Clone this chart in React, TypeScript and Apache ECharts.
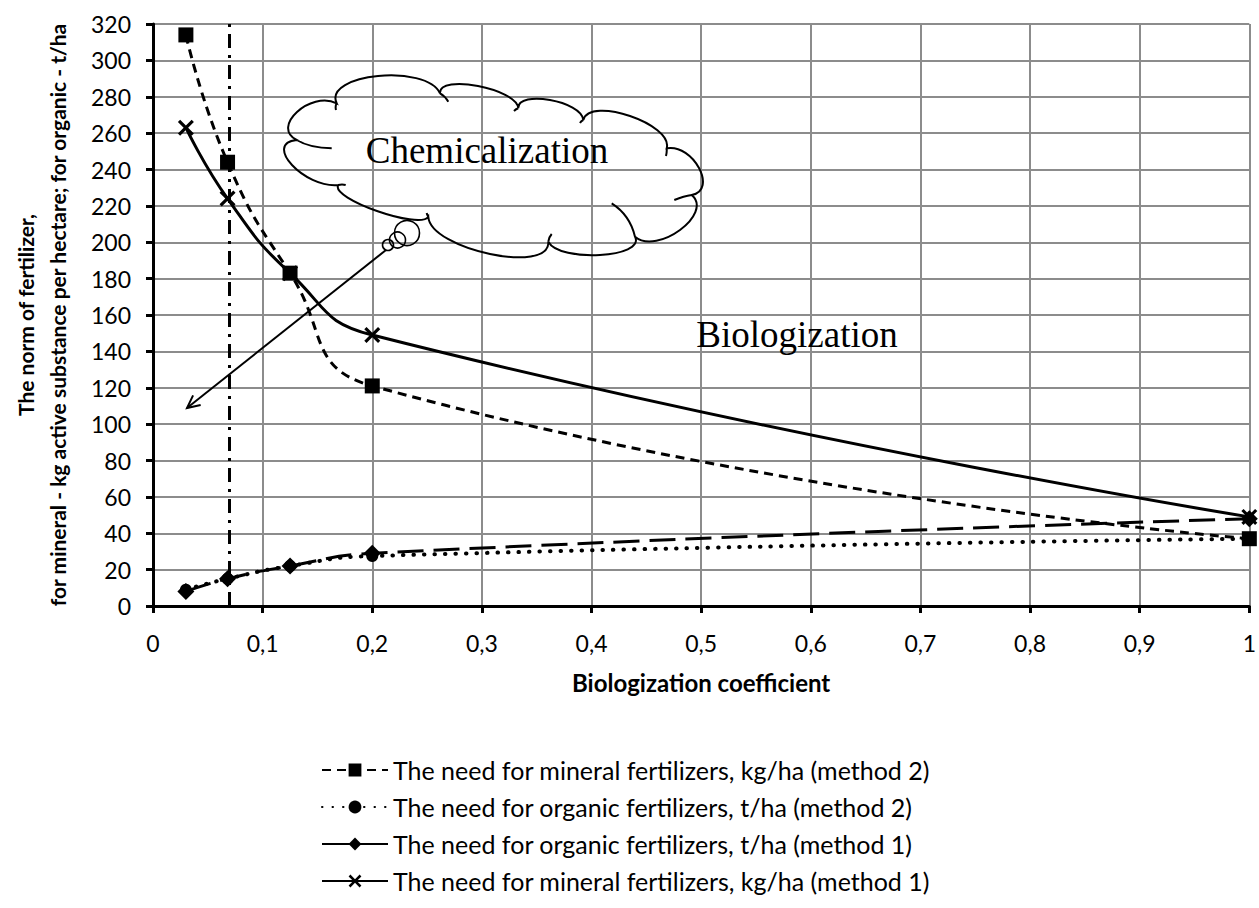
import React, { useEffect, useRef } from 'react';
import * as echarts from 'echarts';

const xValues = [0.03, 0.068, 0.125, 0.2, 1];
const mineralMethod2 = [314, 244, 183, 121, 37];
const organicMethod2 = [9, 15, 22, 27.5, 37];
const organicMethod1 = [8, 15, 22, 29, 48];
const mineralMethod1 = [263, 224, 183, 149, 49];
const thresholdX = 0.068;
const seriesNames = [
  'The need for mineral fertilizers, kg/ha (method 2)',
  'The need for organic fertilizers, t/ha (method 2)',
  'The need for organic fertilizers, t/ha (method 1)',
  'The need for mineral fertilizers, kg/ha (method 1)',
];
const xTitle = 'Biologization coefficient';
const yTitle = 'The norm of fertilizer,\nfor mineral - kg active substance per hectare; for organic - t/ha';
const cloudLabel = 'Chemicalization';
const regionLabel = 'Biologization';

const FONT = 'Lato, "Open Sans", sans-serif';
const SERIF = '"Liberation Serif", "Times New Roman", serif';

const pairs = (ys: number[]) => xValues.map((x, i) => [x, ys[i]]);

const X_SYMBOL = 'path://M0,1.4L1.4,0L5,3.6L8.6,0L10,1.4L6.4,5L10,8.6L8.6,10L5,6.4L1.4,10L0,8.6L3.6,5Z';

// cloud outline (annotation geometry, pixels)
const J = [[296.7, 140], [336.7, 103.3], [440, 93.3], [518.3, 108.3], [583.3, 120], [666.7, 148.3], [691.7, 195], [635, 236.7], [548.3, 241.7], [428.3, 216.7], [338.3, 185]];
const E = [[297, 112], [378, 76], [478, 86], [550, 100], [630, 116], [699, 168], [680, 230], [600, 255], [490, 254], [377, 211], [292, 165]];
const TUCKS = [
  [[296.7, 140], [310, 148], [331.7, 148.3]],
  [[336.7, 103.3], [335, 106], [336, 110]],
  [[440, 93.3], [445, 96], [448.3, 101.7]],
  [[518.3, 108.3], [516, 109], [514, 111]],
  [[583.3, 120], [581, 121], [580, 123]],
  [[666.7, 148.3], [667, 152], [666, 156]],
  [[691.7, 195], [684, 196], [674.3, 200]],
  [[635, 236.7], [630, 215], [611.7, 203.3]],
  [[548.3, 241.7], [549, 237], [551.7, 234]],
  [[428.3, 216.7], [427, 215], [426.7, 213]],
  [[338.3, 185], [342, 184], [345.7, 185]],
];

function cloudPath(): string {
  const f = (n: number) => n.toFixed(2);
  let d = `M${f(J[0][0])},${f(J[0][1])}`;
  for (let i = 0; i < J.length; i++) {
    const a = J[i];
    const b = J[(i + 1) % J.length];
    const e = E[i];
    const mx = (a[0] + b[0]) / 2;
    const my = (a[1] + b[1]) / 2;
    const dx = (e[0] - mx) * 4 / 3;
    const dy = (e[1] - my) * 4 / 3;
    d += `C${f(a[0] + dx)},${f(a[1] + dy)} ${f(b[0] + dx)},${f(b[1] + dy)} ${f(b[0])},${f(b[1])}`;
  }
  d += 'Z';
  for (const t of TUCKS) {
    d += `M${f(t[0][0])},${f(t[0][1])}Q${f(t[1][0])},${f(t[1][1])} ${f(t[2][0])},${f(t[2][1])}`;
  }
  return d;
}

let registered = false;
function ensureShapes() {
  if (registered) return;
  registered = true;
  echarts.graphic.registerShape('cloudShape', echarts.graphic.extendPath(cloudPath(), {}));
}

export default function App() {
  const ref = useRef<HTMLDivElement>(null);
  useEffect(() => {
    if (!ref.current) return;
    ensureShapes();
    const chart = echarts.init(ref.current, undefined, { renderer: 'svg' });

    const ax0 = 386, ay0 = 250, ax1 = 187, ay1 = 408;
    const ang = Math.atan2(ay0 - ay1, ax0 - ax1);
    const head = 14, spread = 0.45;

    const option: any = {
      animation: false,
      backgroundColor: '#ffffff',
      grid: { left: 153, right: 9, top: 24, bottom: 302, containLabel: false },
      xAxis: {
        type: 'value', min: 0, max: 1, interval: 0.1,
        name: xTitle, nameLocation: 'middle', nameGap: 64,
        nameTextStyle: { fontFamily: FONT, fontWeight: 'bold', fontSize: 24, color: '#000' },
        axisLine: { show: true, onZero: false, lineStyle: { color: '#000', width: 3 } },
        axisTick: { show: true, length: 7, lineStyle: { color: '#000', width: 3 } },
        axisLabel: {
          margin: 25, fontFamily: FONT, fontSize: 23, color: '#000',
          formatter: (v: number) => String(+v.toFixed(1)).replace('.', ','),
        },
        splitLine: { show: true, lineStyle: { color: '#8c8c8c', width: 2 } },
      },
      yAxis: {
        type: 'value', min: 0, max: 320, interval: 20,
        name: yTitle, nameLocation: 'middle', nameRotate: 90, nameGap: 80,
        nameTextStyle: { fontFamily: FONT, fontWeight: 'bold', fontSize: 21, color: '#000', lineHeight: 32, align: 'center' },
        axisLine: { show: true, lineStyle: { color: '#000', width: 3 } },
        axisTick: { show: true, length: 7, lineStyle: { color: '#000', width: 3 } },
        axisLabel: { margin: 22, fontFamily: FONT, fontSize: 23, color: '#000' },
        splitLine: { show: true, lineStyle: { color: '#8c8c8c', width: 2 } },
      },
      legend: {
        orient: 'vertical', left: 316, top: 752,
        itemWidth: 66, itemHeight: 16, itemGap: 11,
        textStyle: { fontFamily: FONT, fontSize: 25, color: '#000', lineHeight: 26 },
        data: seriesNames.map((n, i) => (i === 2 ? { name: n, lineStyle: { type: 'solid' } } : { name: n })),
      },
      series: [
        {
          name: seriesNames[0], type: 'line', data: pairs(mineralMethod2), smooth: 0.5,
          symbol: 'rect', symbolSize: 15, z: 4,
          itemStyle: { color: '#000' },
          lineStyle: { color: '#000', width: 3, type: [9, 6] },
          markLine: {
            silent: true, symbol: 'none', label: { show: false },
            lineStyle: { color: '#000', width: 3, type: [14, 7, 3, 7] },
            data: [{ xAxis: thresholdX }],
          },
        },
        {
          name: seriesNames[1], type: 'line', data: pairs(organicMethod2), smooth: 0.5,
          symbol: 'circle', symbolSize: 12, z: 3,
          itemStyle: { color: '#000' },
          lineStyle: { color: '#000', width: 4, type: [0.5, 10], cap: 'round' },
        },
        {
          name: seriesNames[2], type: 'line', data: pairs(organicMethod1), smooth: 0.5,
          symbol: 'diamond', symbolSize: 17, z: 3,
          itemStyle: { color: '#000' },
          lineStyle: { color: '#000', width: 3, type: [26, 10] },
        },
        {
          name: seriesNames[3], type: 'line', data: pairs(mineralMethod1), smooth: 0.5,
          symbol: X_SYMBOL, symbolSize: 16, z: 4,
          itemStyle: { color: '#000' },
          lineStyle: { color: '#000', width: 3 },
        },
      ],
      graphic: [
        {
          type: 'cloudShape', x: 0, y: 0, scaleX: 1, scaleY: 1, z: 10, silent: true,
          style: { fill: 'none', stroke: '#000', lineWidth: 2 },
        },
        { type: 'circle', z: 10, shape: { cx: 388, cy: 245, r: 5.5 }, style: { fill: 'none', stroke: '#000', lineWidth: 1.6 } },
        { type: 'circle', z: 10, shape: { cx: 397.5, cy: 240, r: 8 }, style: { fill: 'none', stroke: '#000', lineWidth: 1.6 } },
        { type: 'circle', z: 10, shape: { cx: 407, cy: 233, r: 12.5 }, style: { fill: 'none', stroke: '#000', lineWidth: 1.6 } },
        { type: 'line', z: 10, shape: { x1: ax0, y1: ay0, x2: ax1, y2: ay1 }, style: { stroke: '#000', lineWidth: 2 } },
        {
          type: 'polyline', z: 10,
          shape: {
            points: [
              [ax1 + head * Math.cos(ang + spread), ay1 + head * Math.sin(ang + spread)],
              [ax1, ay1],
              [ax1 + head * Math.cos(ang - spread), ay1 + head * Math.sin(ang - spread)],
            ],
          },
          style: { stroke: '#000', lineWidth: 2, fill: 'none' },
        },
        {
          type: 'text', z: 10, x: 487, y: 150,
          style: { text: cloudLabel, font: `37px ${SERIF}`, fill: '#000', align: 'center', verticalAlign: 'middle' },
        },
        {
          type: 'text', z: 10, x: 797, y: 334,
          style: { text: regionLabel, font: `37px ${SERIF}`, fill: '#000', align: 'center', verticalAlign: 'middle' },
        },
      ],
    };
    chart.setOption(option);
    return () => chart.dispose();
  }, []);
  return <div ref={ref} style={{ position: 'fixed', left: 0, top: 0, width: 1259, height: 908 }} />;
}
